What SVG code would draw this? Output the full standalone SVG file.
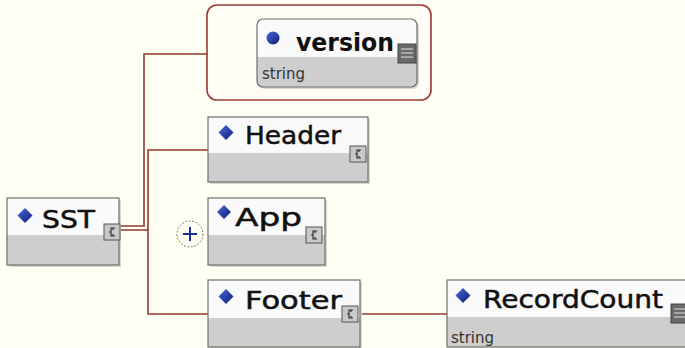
<svg xmlns="http://www.w3.org/2000/svg" width="685" height="348" viewBox="0 0 685 348">
<defs>
<style>
.top{fill:#fafafa}
.bot{fill:#cecece}
.frame{fill:none;stroke:#6e6e6e;stroke-width:1.2}
.shadow{fill:#d8d8cc}
.lbl{font-family:"DejaVu Sans","Liberation Sans",sans-serif;font-size:25px;fill:#111;stroke:#111;stroke-width:0.5}
.lblb{font-family:"DejaVu Sans","Liberation Sans",sans-serif;font-size:25px;font-weight:bold;fill:#111}
.typ{font-family:"DejaVu Sans","Liberation Sans",sans-serif;font-size:15px;fill:#333}
.con{fill:none;stroke:#8f3a2e;stroke-width:1.6}
.dia{fill:url(#blue)}
</style>
<linearGradient id="blue" x1="0" y1="0" x2="1" y2="1">
<stop offset="0" stop-color="#4a6ad8"/>
<stop offset="1" stop-color="#0c1c78"/>
</linearGradient>
<g id="seqIcon">
<rect x="0" y="0" width="16" height="16" fill="#c9c9c9" stroke="#555" stroke-width="1"/>
<path d="M11,4 H7 V8 H5 M7,8 V12 H11 M9,4 V6 M9,10 V12" fill="none" stroke="#333" stroke-width="1.2"/>
</g>
<g id="simpleIcon">
<rect x="0" y="0" width="18" height="19" fill="#6a6a6a" stroke="#444" stroke-width="1"/>
<path d="M3,5 H15 M3,9 H15 M3,13 H15" stroke="#bbb" stroke-width="1.3"/>
</g>
</defs>
<rect width="685" height="348" fill="#fffff3"/>

<g id="connectors">
<path class="con" d="M121,226 H144 V54 H207"/>
<path class="con" d="M121,230 H148 V314 H208"/>
<path class="con" d="M208,150 H148 V230"/>
<path class="con" d="M358,314 H447"/>
</g>

<g id="SST">
<rect class="shadow" x="9" y="200" width="112" height="67"/>
<rect class="top" x="7" y="198" width="112" height="37"/>
<rect class="bot" x="7" y="235" width="112" height="30"/>
<rect class="frame" x="7" y="198" width="112" height="67"/>
<polygon class="dia" points="25,208 32.5,215.5 25,223 17.5,215.5"/>
<text class="lbl" x="42" y="228" textLength="53" lengthAdjust="spacingAndGlyphs">SST</text>
<use href="#seqIcon" x="104" y="224"/>
</g>

<g id="versionGroup">
<rect x="207" y="5" width="224" height="95" rx="10" fill="#fffdf6" stroke="#9b3a30" stroke-width="1.6"/>
</g>

<g id="version">
<rect class="shadow" x="259" y="21" width="160" height="68" rx="6"/>
<rect class="top" x="257" y="19" width="160" height="68" rx="6"/>
<path class="bot" d="M257,57 H417 V81 Q417,87 411,87 H263 Q257,87 257,81 Z"/>
<rect class="frame" x="257" y="19" width="160" height="68" rx="6"/>
<circle cx="273" cy="38" r="6.5" fill="url(#blue)"/>
<text class="lblb" x="296" y="51" textLength="98" lengthAdjust="spacingAndGlyphs">version</text>
<use href="#simpleIcon" x="398" y="44"/>
<text class="typ" x="262" y="79">string</text>
</g>

<g id="Header">
<rect class="shadow" x="210" y="119" width="160" height="65"/>
<rect class="top" x="208" y="117" width="160" height="36"/>
<rect class="bot" x="208" y="153" width="160" height="29"/>
<rect class="frame" x="208" y="117" width="160" height="65"/>
<polygon class="dia" points="226,125 233.5,132.5 226,140 218.5,132.5"/>
<text class="lbl" x="245" y="144" textLength="96" lengthAdjust="spacingAndGlyphs">Header</text>
<use href="#seqIcon" x="350" y="146"/>
</g>

<g id="App">
<circle cx="190" cy="234" r="13" fill="#fffff3" stroke="#777" stroke-width="1" stroke-dasharray="2,1.5"/>
<path d="M183,234 H197 M190,227 V241" stroke="#1a2a9a" stroke-width="2"/>
<rect class="shadow" x="210" y="200" width="117" height="67"/>
<rect class="top" x="208" y="198" width="117" height="37"/>
<rect class="bot" x="208" y="235" width="117" height="30"/>
<rect class="frame" x="208" y="198" width="117" height="67"/>
<polygon class="dia" points="224,205 231,212 224,219 217,212"/>
<text class="lbl" x="235" y="226" textLength="67" lengthAdjust="spacingAndGlyphs">App</text>
<use href="#seqIcon" x="306" y="227"/>
</g>

<g id="Footer">
<rect class="shadow" x="210" y="282" width="152" height="67"/>
<rect class="top" x="208" y="280" width="152" height="38"/>
<rect class="bot" x="208" y="318" width="152" height="29"/>
<rect class="frame" x="208" y="280" width="152" height="67"/>
<polygon class="dia" points="226,289 233.5,296.5 226,304 218.5,296.5"/>
<text class="lbl" x="245" y="309" textLength="97" lengthAdjust="spacingAndGlyphs">Footer</text>
<use href="#seqIcon" x="342" y="306"/>
</g>

<g id="RecordCount">
<rect class="top" x="447" y="280" width="250" height="37"/>
<rect class="bot" x="447" y="317" width="250" height="30"/>
<rect class="frame" x="447" y="280" width="250" height="67"/>
<polygon class="dia" points="463,288 470.5,295.5 463,303 455.5,295.5"/>
<text class="lbl" x="483" y="308" textLength="180" lengthAdjust="spacingAndGlyphs">RecordCount</text>
<use href="#simpleIcon" x="671" y="304"/>
<text class="typ" x="451" y="343">string</text>
</g>
</svg>
